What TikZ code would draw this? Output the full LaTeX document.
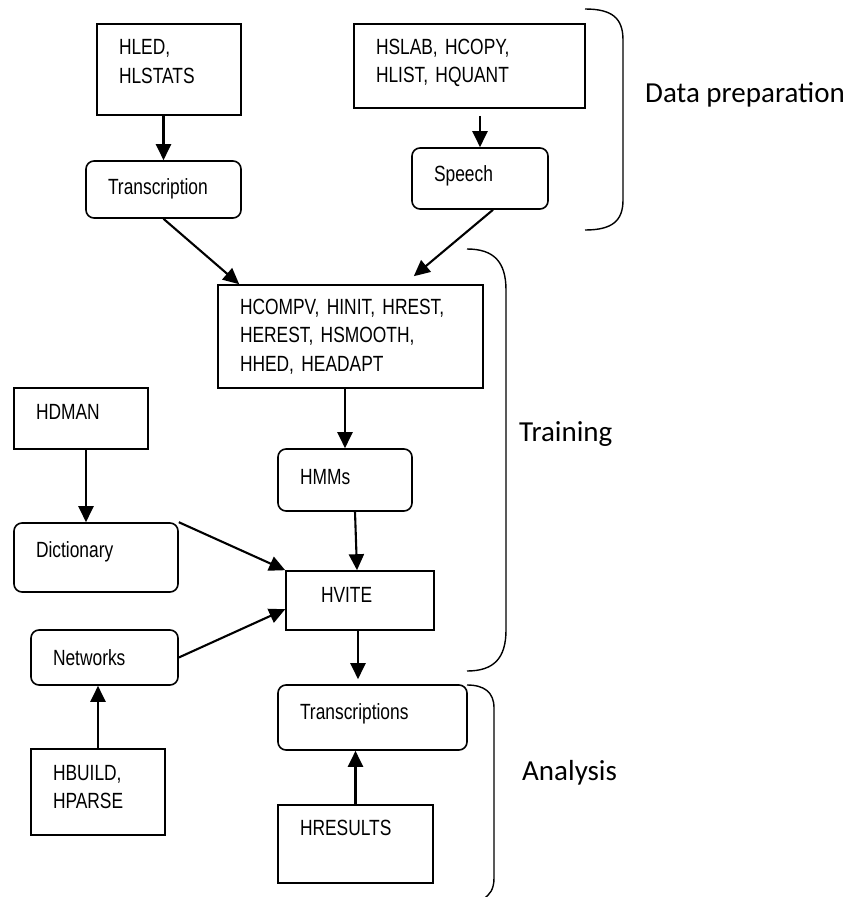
\documentclass[tikz,border=0pt]{standalone}
\usepackage{fontspec}
\newfontfamily\boxfont{Liberation Sans}[FakeStretch=0.79, WordSpace=0.7]
\newfontfamily\tagfont{Carlito}
\usetikzlibrary{arrows.meta, calc}

\begin{document}
\begin{tikzpicture}[x=1pt, y=-1pt,
  box/.style={draw, line width=1.6pt, inner xsep=22pt, inner ysep=2pt, align=left,
    font=\boxfont\fontsize{22pt}{28.5pt}\selectfont},
  rbox/.style={box, rounded corners=8pt},
  arr/.style={line width=2.1pt, -{Triangle[length=16pt, width=15pt]}},
  brace/.style={line width=1.4pt},
  tag/.style={anchor=base west, inner sep=0pt, font=\tagfont\fontsize{29pt}{34pt}\selectfont}]
  \useasboundingbox (0,0) rectangle (852,897);

  \node[box, text width=100pt, minimum height=91pt, text depth=44.5pt] (hled) at (169,69.5) {HLED,\\HLSTATS};
  \node[box, text width=187pt, minimum height=84pt, text depth=38.5pt] (hslab) at (469.5,66) {HSLAB, HCOPY,\\HLIST, HQUANT};
  \node[rbox, text width=111pt, minimum height=57pt, text depth=5pt] (transcr) at (163.5,189.5) {Transcription};
  \node[rbox, text width=92pt, minimum height=61pt, text depth=9pt] (speech) at (480,178.5) {Speech};
  \node[box, text width=221pt, minimum height=103pt] (hcompv) at (350.5,336.5) {HCOMPV, HINIT, HREST,\\HEREST, HSMOOTH,\\HHED, HEADAPT};
  \node[box, text width=90pt, minimum height=61pt, text depth=13pt] (hdman) at (81,418.5) {HDMAN};
  \node[rbox, text width=90pt, minimum height=62pt, text depth=6pt] (hmms) at (345,480) {HMMs};
  \node[rbox, text width=120pt, minimum height=69pt, text depth=15pt] (dict) at (96,557.5) {Dictionary};
  \node[box, inner xsep=35pt, text width=78pt, minimum height=59pt, text depth=11pt] (hvite) at (360,600.5) {HVITE};
  \node[rbox, text width=103pt, minimum height=55pt] (networks) at (104.5,657.5) {Networks};
  \node[rbox, text width=145pt, minimum height=65pt, text depth=11pt] (trans2) at (372.5,717.5) {Transcriptions};
  \node[box, text width=90pt, minimum height=86pt, text depth=38.5pt] (hbuild) at (98,792) {HBUILD,\\HPARSE};
  \node[box, text width=111pt, minimum height=78pt, text depth=32pt] (hresults) at (355.5,844) {HRESULTS};

  \draw[arr] (hled.south -| transcr.north) -- (transcr.north);
  \draw[arr] ($(hslab.south -| speech.north)+(0,7)$) -- (speech.north);
  \draw[arr] (transcr.south) -- ([xshift=22pt]hcompv.north west);
  \draw[arr] ([xshift=13pt]speech.south) -- ([xshift=-70pt, yshift=8pt]hcompv.north east);
  \draw[arr] (hcompv.south -| hmms.north) -- (hmms.north);
  \draw[arr] ($(hdman.south)+(5,0)$) -- ($(hdman.south |- dict.north)+(5,0)$);
  \draw[arr] ([xshift=10pt]hmms.south) -- ([xshift=-3pt]hvite.north);
  \draw[arr] (dict.north east) -- (hvite.north west);
  \draw[arr] (networks.east) -- ([yshift=-39pt]hvite.north west);
  \draw[arr] ([xshift=-2pt]hvite.south) -- ($(hvite.south |- trans2.north)+(-2,-5)$);
  \draw[arr] (hresults.north) -- (hresults.north |- trans2.south);
  \draw[arr] (hbuild.north) -- (hbuild.north |- networks.south);

  \draw[brace] (585,9) .. controls (612,9) and (623,18) .. (623,40) -- (623,200) .. controls (623,221) and (612,230) .. (585,230);
  \draw[brace] (467,249) .. controls (494,249) and (506,262) .. (506,290) -- (506,630) .. controls (506,658) and (494,671) .. (467,671);
  \draw[brace] (467,685) .. controls (484,685) and (494,692) .. (494,708) -- (494,878) .. controls (494,889) and (490,895) .. (483,899);

  \node[tag] (dataprep) at (645,102) {Data preparation};
  \node[tag] (training) at (519,441) {Training};
  \node[tag] (analysis) at (522,780) {Analysis};
\end{tikzpicture}
\end{document}
